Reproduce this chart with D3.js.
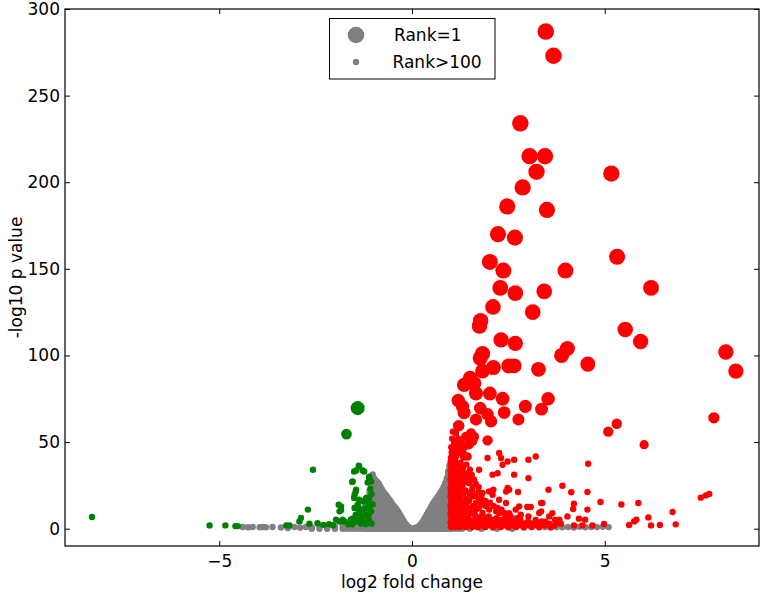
<!DOCTYPE html>
<html><head><meta charset="utf-8">
<script src="https://cdn.jsdelivr.net/npm/d3@7"></script>
<style>body{margin:0;background:#fff}svg{display:block}text{font-family:"DejaVu Sans",sans-serif}</style>
</head><body><svg id="c" width="761" height="597"></svg>
<script>
const xTicks=[-5,0,5];
const yTicks=[0,50,100,150,200,250,300];
const xDomain=[-9,9];
const yDomain=[-10,300];
const xLabel="log2 fold change";
const yLabel="-log10 p value";
const legendLabels=["Rank=1","Rank>100"];
const legendRanks=[1,101];

// dense non-significant cloud: [log2FC, top -log10p of the stacked points]
const grayEnvelope=[[-2.6,0.5],[-2.4,0.8],[-2.2,1.2],[-2.0,1.5],[-1.8,2],[-1.7,2.5],[-1.6,3.5],[-1.5,4.5],[-1.4,6],[-1.3,9],[-1.25,12],[-1.2,14],[-1.15,18],[-1.1,22],[-1.06,26],[-1.02,31.3],[-0.98,29],[-0.94,27.8],[-0.9,27],[-0.86,26],[-0.82,24.3],[-0.78,22.6],[-0.74,21.2],[-0.7,20],[-0.66,19],[-0.62,17.8],[-0.58,16.6],[-0.54,15.3],[-0.5,14],[-0.46,12.8],[-0.42,11.8],[-0.38,10.6],[-0.34,9.2],[-0.3,7.8],[-0.26,6.2],[-0.22,4.6],[-0.18,3.2],[-0.14,2.1],[-0.1,1.2],[-0.06,0.5],[-0.02,0],[0.02,0],[0.06,0.2],[0.1,0.5],[0.14,0.9],[0.18,1.4],[0.22,2.4],[0.26,3.6],[0.3,4.9],[0.34,6.5],[0.38,8.1],[0.42,9.7],[0.46,11.3],[0.5,12.9],[0.54,14.4],[0.58,15.7],[0.62,16.9],[0.66,18.2],[0.7,19.5],[0.74,20.9],[0.78,22.4],[0.82,24.1],[0.86,26.3],[0.9,29],[0.94,33],[0.97,36.3],[1.0,35],[1.04,30],[1.1,20],[1.2,10],[1.3,5],[1.5,2.5],[1.8,1.5],[2.2,1],[2.6,1]];
const grayPoints=[[-4.39,1],[-4.25,0.8],[-4.13,1],[-3.95,0.8],[-3.87,1],[-3.79,0.8],[-3.62,1],[-3.40,0.7],[-3.22,0.4],[-3.05,1],[-2.9,0.6],[-2.75,1],[-2.6,0.7],[1.7,0.8],[1.9,1],[2.1,0.6],[2.3,1],[2.5,0.7],[2.7,1],[2.9,0.6],[3.1,1],[3.3,0.8],[3.45,1],[3.6,0.7],[3.75,1],[3.9,0.8],[4.05,1],[4.2,0.7],[4.35,1.1],[4.5,0.8],[4.65,1],[4.8,0.9],[4.95,1.1],[5.1,0.9]];

// up-regulated: [log2FC, -log10p, rank]
const redPoints=[[3.47,287,1],[3.67,273,2],[2.81,234,3],[3.05,215,4],[3.45,215,5],[3.23,206,6],[5.17,205,7],[2.87,197,8],[2.47,186,9],[3.50,184,10],[2.23,170,11],[2.67,168,12],[5.32,157,13],[2.02,154,14],[2.37,149,15],[3.98,149,16],[6.20,139,17],[2.29,139,18],[2.68,136,19],[3.43,137,20],
[2.10,128,21],[3.13,125,22],[1.75,117,23],[1.78,120,24],[5.53,115,25],[5.93,108,26],[2.31,109,27],[2.68,107,28],[8.14,102,29],[8.40,91,30],[1.83,101,31],[1.77,98.5,32],[4.03,104,33],[3.88,100,34],[4.56,95,35],[2.11,93,36],[2.51,94,37],[2.65,94,38],[3.28,92,39],[1.83,91,40],
[1.51,87,41],[1.61,84,42],[1.44,84,43],[1.35,83,44],[1.66,78,45],[2.02,78,46],[2.35,75,47],[3.53,75,48],[1.20,74,49],[1.31,70.6,50],[1.35,67,51],[2.94,70.6,52],[3.36,69,53],[2.39,67,54],[1.77,69.6,55],[1.96,66,56],[2.05,62,57],[1.66,63,58],[2.76,63,59],[1.21,59.4,62],
[7.83,64,64],[5.31,60.6,70],[5.09,56,70],[1.96,51,70],[1.53,55,72],[1.61,53,74],[1.40,53,74],[1.23,49.4,78],[1.57,50.4,78],[1.48,48.5,80],[1.14,47.5,82],[1.35,47.5,82],[6.02,48.5,82],[1.10,42.7,88],[1.31,43.7,88],[1.44,41.7,90],
[2.26,43.7,150],[2.31,40.8,150],[2.35,36.9,150],[2.48,38.8,150],[2.65,39.8,150],[3.02,39.8,150],[3.21,41.7,150],[1.96,40.8,150],[1.74,34,150],[2.22,32,150],[2.09,31.2,150],[2.65,31.2,150],[3.02,29.2,150],[1.61,28.3,150],[1.48,26.4,150],[2.48,23.5,150],[2.44,21.5,150],[2.75,21.2,150],[3.54,22.5,150],[3.90,24.8,150],[4.13,21,150],[4.55,21.2,150],[1.83,20.6,150],[2.00,21.5,150],[2.09,19.6,150],[1.57,18.6,150],[1.74,16.7,150],[2.26,16.7,150],[2.44,14.8,150],[2.78,12.9,150],[2.99,12.5,150],[3.08,12.5,150],[3.35,14.8,150],[4.20,14.4,150],[4.18,11.4,150],[4.55,11,150],[4.89,15.4,150],[5.43,14,150],[5.87,14.8,150],[3.35,10,150],[4.33,5.8,150],[4.49,5.2,150],[7.49,17.9,150],[7.62,19.2,150],[7.71,20,150],[6.76,9.6,150],[6.13,6.5,150],[5.82,5.2,150],[5.76,4.2,150],[5.63,2.1,150],[6.20,1.9,150],[6.43,2.1,150],[6.84,2.5,150],[3.37,4.2,150],[3.56,2.9,150],[3.82,3.3,150],[3.86,2.9,150],[4.20,1.9,150],[4.42,1.9,150],[4.68,1.9,150],[4.98,2.7,150],[1.66,11,150],[1.83,9.1,150],[2.00,11,150],[2.18,10,150],[2.39,9.1,150],[2.56,7.1,150],[2.69,11,150],[3.30,9.1,150],[3.56,7.1,150],[3.82,5.2,150],[4.03,7.1,150],[4.57,37.5,150],[2.11,22.5,150],[2.52,22.5,150],[3.64,9,150],[2.26,9,150],[3.38,14.8,150],
[1.01,1,150],[1.0,3.5,150],[1.02,6,150],[1.0,8.5,150],[1.01,11,150],[1.0,13.5,150],[1.02,16,150],[1.0,18.5,150],[1.01,21,150],[1.0,23.5,150],[1.02,26,150],[1.0,28.5,150],[1.01,31,150],[1.0,33.5,150],[1.02,36,150],[1.0,38.5,150],[1.01,41,150],[1.03,44,150],[1.02,47,150],[1.04,52,150],[1.06,56,150],
[1.06,2,150],[1.07,5,150],[1.05,7.5,150],[1.08,10,150],[1.06,12.5,150],[1.07,15,150],[1.05,17.5,150],[1.08,20,150],[1.06,22.5,150],[1.07,25,150],[1.05,27.5,150],[1.08,30,150],[1.06,32.5,150],[1.07,35,150],[1.05,37.5,150],[1.08,40,150],[1.07,45,150],[1.09,50,150],
[1.12,1,150],[1.13,4,150],[1.11,6.5,150],[1.14,9,150],[1.12,14,150],[1.13,19,150],[1.11,24,150],[1.14,27,150],[1.12,29,150],[1.13,34,150],[1.12,39,150],[1.15,42,150],[1.14,55,150],
[1.18,2.5,150],[1.19,5.5,150],[1.17,8,150],[1.2,12,150],[1.18,16,150],[1.19,21,150],[1.17,26,150],[1.2,31,150],[1.18,36,150],[1.19,44,150],[1.2,52,150],
[1.25,1,150],[1.26,4,150],[1.24,7,150],[1.27,10,150],[1.25,13,150],[1.26,18,150],[1.24,23,150],[1.27,28,150],[1.25,33,150],[1.26,38,150],[1.25,46,150],
[1.32,2,150],[1.33,5,150],[1.31,9,150],[1.34,12,150],[1.32,15,150],[1.33,20,150],[1.31,25,150],[1.34,30,150],[1.32,35,150],[1.33,41,150],
[1.40,1,150],[1.41,3,150],[1.39,6,150],[1.42,10,150],[1.40,14,150],[1.41,17,150],[1.39,22,150],[1.42,27,150],[1.40,32,150],[1.41,37,150],
[1.48,2,150],[1.49,5,150],[1.47,8,150],[1.50,12,150],[1.48,16,150],[1.49,20,150],[1.47,29,150],[1.50,34,150],
[1.56,1,150],[1.57,4,150],[1.55,9,150],[1.58,13,150],[1.56,22,150],[1.57,24,150],[1.55,31,150],
[1.64,2,150],[1.65,6,150],[1.63,8,150],[1.66,15,150],[1.64,19,150],[1.65,26,150],
[1.72,1,150],[1.73,3,150],[1.71,5,150],[1.74,12,150],[1.72,21,150],[1.73,24,150],
[1.80,2,150],[1.81,4,150],[1.79,7,150],[1.82,14,150],[1.80,18,150],
[1.90,1,150],[1.91,3,150],[1.89,6,150],[1.92,13,150],[1.90,16,150],
[2.00,2,150],[2.01,4,150],[1.99,7,150],[2.02,15,150],
[2.10,1,150],[2.11,3,150],[2.09,5,150],[2.12,13,150],
[2.20,2,150],[2.21,4,150],[2.19,6,150],[2.22,12,150],
[2.30,1,150],[2.31,3,150],[2.29,5,150],[2.32,11,150],
[2.40,2,150],[2.41,4,150],[2.42,7,150],
[2.50,1,150],[2.51,3,150],[2.49,5,150],[2.52,9,150],
[2.60,2,150],[2.61,4,150],[2.70,1,150],[2.71,3,150],[2.72,6,150],[2.80,2,150],[2.81,5,150],[2.82,8,150],[2.90,1,150],[2.91,3,150],[3.00,2,150],[3.01,4,150],[3.02,7,150],[3.10,1,150],[3.11,3,150],[3.20,2,150],[3.21,5,150],[3.30,1,150],[3.31,3,150],[3.45,2,150],[3.46,4,150],[3.60,1,150],[3.70,2,150],[3.71,5,150]];

// down-regulated: [log2FC, -log10p, rank]
const greenPoints=[[-1.41,69.6,45],[-1.70,54.6,68],
[-8.3,6.7,150],[-5.25,1.9,150],[-4.84,1.9,150],[-4.58,1.5,150],[-4.52,1.5,150],[-3.26,1.9,150],[-3.18,1.9,150],[-2.92,4.2,150],[-2.88,6.2,150],[-2.70,11,150],[-2.57,34,150],[-2.66,2.9,150],[-2.45,3.2,150],[-2.30,2.2,150],[-2.15,2.6,150],[-2.05,2,150],[-1.97,5.2,150],[-1.88,4.2,150],[-1.75,4.2,150],[-1.90,13.8,150],[-1.84,10.6,150],[-1.84,12.9,150],[-1.88,10,150],[-1.80,5.2,150],[-1.65,2.5,150],[-1.59,5.2,150],[-1.46,4.2,150],[-1.27,4.2,150],[-1.12,5.2,150],[-1.38,36.3,150],[-1.45,33.6,150],[-1.28,33.6,150],[-1.37,36,150],[-1.24,33,150],[-1.50,33,150],[-1.55,27,150],[-1.54,27.3,150],[-1.11,29.2,150],[-1.15,26.7,150],[-1.06,27.3,150],[-1.11,30,150],[-1.45,22.5,150],[-1.46,21.5,150],[-1.49,19.6,150],[-1.50,17.7,150],[-1.37,16.7,150],[-1.24,15.8,150],[-1.11,17.7,150],[-1.19,17.7,150],[-1.28,15.8,150],[-1.11,14.8,150],[-1.41,13.8,150],[-1.41,12.9,150],[-1.49,11.9,150],[-1.37,11,150],[-1.28,11,150],[-1.19,11.9,150],[-1.11,11.9,150],[-1.06,10,150],[-1.46,8.1,150],[-1.28,7.1,150],[-1.12,8.1,150],[-1.37,9.1,150],[-1.19,8.1,150],[-1.54,5.8,150],[-1.41,5.2,150],[-1.33,3,150],[-1.20,2.5,150],[-1.05,3,150],[-1.55,2.5,150],[-1.05,20,150],[-1.08,23,150],[-1.02,14,150]];

const colors={gray:"#808080",red:"#ff0000",green:"#008000"};

const svg=d3.select("#c");
const L=65,R=759,T=9,B=546;
const x=d3.scaleLinear().domain(xDomain).range([L,R]);
const y=d3.scaleLinear().domain(yDomain).range([B,T]);
const rScale=d3.scaleLinear().domain([1,40,70,100,101]).range([8.3,7.4,5.2,3.8,3.2]).clamp(true);

const plot=svg.append("g");
// gray cloud
plot.append("g").selectAll("line").data(grayEnvelope).join("line")
  .attr("x1",d=>x(d[0])).attr("x2",d=>x(d[0]))
  .attr("y1",y(0)).attr("y2",d=>y(Math.max(0,d[1])))
  .attr("stroke",colors.gray).attr("stroke-width",rScale(101)*2).attr("stroke-linecap","round");
plot.append("g").selectAll("circle").data(grayPoints).join("circle")
  .attr("cx",d=>x(d[0])).attr("cy",d=>y(d[1])).attr("r",rScale(101)).attr("fill",colors.gray);
plot.append("g").selectAll("circle").data(greenPoints).join("circle")
  .attr("cx",d=>x(d[0])).attr("cy",d=>y(d[1])).attr("r",d=>rScale(d[2])).attr("fill",colors.green);
plot.append("g").selectAll("circle").data(redPoints).join("circle")
  .attr("cx",d=>x(d[0])).attr("cy",d=>y(d[1])).attr("r",d=>rScale(d[2])).attr("fill",colors.red);

// axes
const fs=17;
function style(g){g.select(".domain").remove();g.selectAll("line").attr("stroke","#000");g.selectAll("text").attr("font-size",fs).attr("fill","#000").attr("font-family","DejaVu Sans");}
svg.append("g").attr("transform",`translate(0,${B})`).call(d3.axisBottom(x).tickValues(xTicks).tickSize(-5).tickPadding(9)).call(style);
svg.append("g").attr("transform",`translate(0,${T})`).call(d3.axisTop(x).tickValues(xTicks).tickSize(-5).tickFormat("")).call(style);
svg.append("g").attr("transform",`translate(${L},0)`).call(d3.axisLeft(y).tickValues(yTicks).tickSize(-5).tickPadding(5)).call(style);
svg.append("g").attr("transform",`translate(${R},0)`).call(d3.axisRight(y).tickValues(yTicks).tickSize(-5).tickFormat("")).call(style);
svg.append("rect").attr("x",L).attr("y",T).attr("width",R-L).attr("height",B-T).attr("fill","none").attr("stroke","#000").attr("stroke-width",1.2);

svg.append("text").attr("x",(L+R)/2).attr("y",588).attr("text-anchor","middle").attr("font-size",fs).text(xLabel);
svg.append("text").attr("transform",`translate(22,${(T+B)/2}) rotate(-90)`).attr("text-anchor","middle").attr("font-size",fs).text(yLabel);

// legend
const lg=svg.append("g");
lg.append("rect").attr("x",329.5).attr("y",18.5).attr("width",165.5).attr("height",60.5).attr("fill","#fff").attr("stroke","#000").attr("stroke-width",1);
lg.selectAll("circle").data(legendRanks).join("circle").attr("cx",356).attr("cy",(d,i)=>35+i*27).attr("r",d=>rScale(d)).attr("fill",colors.gray);
lg.selectAll("text").data(legendLabels).join("text").attr("x",(d,i)=>i?392.5:394).attr("y",(d,i)=>35+i*27).attr("dy","0.36em").attr("font-size",fs).text(d=>d);
</script></body></html>
